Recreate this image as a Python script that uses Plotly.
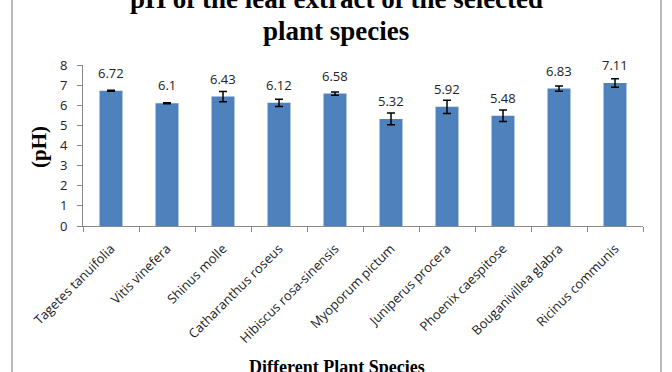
import plotly.graph_objects as go

species = ["Tagetes tanuifolia", "Vitis vinefera", "Shinus molle", "Catharanthus roseus",
           "Hibiscus rosa-sinensis", "Myoporum pictum", "Juniperus procera",
           "Phoenix caespitose", "Bouganivillea glabra", "Ricinus communis"]
ph_values = [6.72, 6.1, 6.43, 6.12, 6.58, 5.32, 5.92, 5.48, 6.83, 7.11]
ph_errors = [0.03, 0.03, 0.25, 0.18, 0.08, 0.29, 0.33, 0.29, 0.13, 0.21]
value_labels = ["6.72", "6.1", "6.43", "6.12", "6.58", "5.32", "5.92", "5.48", "6.83", "7.11"]
title_lines = ["pH of the leaf extract of the selected", "plant species"]

W, H = 672, 372
ml, mr, mt, mb = 83, 29, 65, 146
pw, ph = W - ml - mr, H - mt - mb

def px(x):
    return (x - ml) / pw

def py(y):
    return (H - mb - y) / ph

fig = go.Figure()
fig.add_trace(go.Bar(
    x=species, y=ph_values,
    marker=dict(color="#4F81BD", line=dict(width=0)),
    width=0.41,
    error_y=dict(type="data", array=ph_errors, visible=True, color="black",
                 thickness=1.5, width=4),
))

for s, v, t in zip(species, ph_values, value_labels):
    fig.add_annotation(x=s, y=v, text=t, showarrow=False, yanchor="bottom",
                       yshift=7, font=dict(family="Open Sans", size=13, color="#222"))

# title (first line partially cut off at top)
for line, bottom in zip(title_lines, [16, 48]):
    fig.add_annotation(xref="paper", yref="paper", x=px(336), y=py(bottom), yanchor="bottom",
                       xanchor="center", text="<b>" + line + "</b>", showarrow=False,
                       font=dict(family="Liberation Serif", size=27, color="black"))
# y title
fig.add_annotation(xref="paper", yref="paper", x=px(39), y=py(147), textangle=-90,
                   xanchor="center", yanchor="middle",
                   text="<b>(pH)</b>", showarrow=False,
                   font=dict(family="Liberation Serif", size=21, color="black"))
# x title (partially cut at bottom)
fig.add_annotation(xref="paper", yref="paper", x=px(337), y=py(379), yanchor="bottom",
                   xanchor="center",
                   text="<b>Different Plant Species</b>", showarrow=False,
                   font=dict(family="Liberation Serif", size=18, color="black"))

# chart border
fig.add_shape(type="rect", xref="paper", yref="paper",
              x0=px(12), x1=px(661), y0=py(400), y1=py(-30),
              line=dict(color="#8c8c8c", width=1.2), fillcolor="rgba(0,0,0,0)", layer="below")

fig.update_layout(
    width=W, height=H,
    margin=dict(l=ml, r=mr, t=mt, b=mb),
    paper_bgcolor="white", plot_bgcolor="white",
    showlegend=False,
    font=dict(family="Open Sans", size=13, color="#222"),
    xaxis=dict(type="category", tickangle=-45, showline=True, linecolor="#888",
               linewidth=1, ticks="outside", tickson="boundaries", ticklen=5,
               tickcolor="#888", showgrid=False, tickfont=dict(size=13), automargin=False,
               ticklabelstandoff=9),
    yaxis=dict(range=[0, 8], dtick=1, showline=True, linecolor="#888", linewidth=1,
               ticks="outside", ticklen=5, tickcolor="#888", showgrid=False,
               zeroline=False, tickfont=dict(size=13), automargin=False,
               ticklabelstandoff=7),
)

fig.write_html("out.html", config={"displayModeBar": False},
               post_script="document.body.style.margin='0';document.body.style.overflow='hidden';")
